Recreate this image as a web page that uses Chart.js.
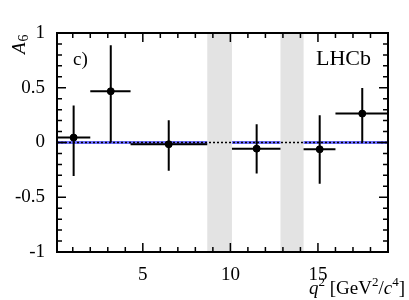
<!DOCTYPE html>
<html lang="en">
<head>
    <meta charset="UTF-8">
    <title>A6 vs q2</title>
    <script src="https://cdn.jsdelivr.net/npm/chart.js"></script>
    <style>
        html, body { margin: 0; padding: 0; background: #fff; }
        #wrap { width: 409px; height: 300px; }
    </style>
</head>
<body>
    <div id="wrap"><canvas id="a6Chart" width="409" height="300"></canvas></div>
    <script>
        // Measured bins (q2 in GeV^2/c^4)
        const binLow = [0.1, 2.0, 4.3, 10.09, 14.18, 16.0];
        const binHigh = [2.0, 4.3, 8.68, 12.86, 16.0, 19.0];
        const binCenter = [1.05, 3.17, 6.48, 11.5, 15.1, 17.53];
        const a6Value = [0.045, 0.468, -0.016, -0.056, -0.062, 0.264];
        const a6Upper = [0.337, 0.888, 0.203, 0.166, 0.249, 0.498];
        const a6Lower = [-0.306, 0.0, -0.257, -0.282, -0.376, 0.004];

        // SM prediction per bin (flat at zero)
        const smValue = [0, 0, 0, 0, 0, 0];

        // Vetoed charmonium regions
        const vetoLow = [8.68, 12.86];
        const vetoHigh = [10.09, 14.18];

        const xTicks = [5, 10, 15];
        const yTicks = [-1, -0.5, 0, 0.5, 1];

        Chart.defaults.font.family = "'Liberation Serif', serif";
        Chart.defaults.font.size = 19;
        Chart.defaults.color = '#000';

        // blue SM segments, broken between bins
        const smData = [];
        binLow.forEach((lo, i) => {
            smData.push({ x: lo, y: smValue[i] }, { x: binHigh[i], y: smValue[i] }, { x: binHigh[i], y: null });
        });

        const decor = {
            id: 'decor',
            beforeDatasetsDraw(chart) {
                const { ctx, chartArea: a, scales: { x } } = chart;
                ctx.save();
                ctx.fillStyle = '#e3e3e3';
                vetoLow.forEach((lo, i) => {
                    const x0 = x.getPixelForValue(lo), x1 = x.getPixelForValue(vetoHigh[i]);
                    ctx.fillRect(x0, a.top, x1 - x0, a.bottom - a.top);
                });
                ctx.restore();
            },
            afterDatasetsDraw(chart) {
                const { ctx, chartArea: a, scales: { x, y } } = chart;
                ctx.save();
                // error bars
                ctx.strokeStyle = '#000';
                ctx.lineWidth = 2;
                binCenter.forEach((c, i) => {
                    const px = x.getPixelForValue(c), py = y.getPixelForValue(a6Value[i]);
                    ctx.beginPath();
                    ctx.moveTo(Math.max(x.getPixelForValue(binLow[i]), a.left), py);
                    ctx.lineTo(x.getPixelForValue(binHigh[i]), py);
                    ctx.moveTo(px, y.getPixelForValue(a6Upper[i]));
                    ctx.lineTo(px, y.getPixelForValue(a6Lower[i]));
                    ctx.stroke();
                });
                // frame
                ctx.lineWidth = 2;
                ctx.strokeRect(a.left, a.top, a.right - a.left, a.bottom - a.top);
                // ticks pointing inward
                ctx.lineWidth = 1.5;
                ctx.beginPath();
                for (let v = 1; v <= 19; v++) {
                    const px = x.getPixelForValue(v);
                    const len = v % 5 === 0 ? 9 : 5;
                    ctx.moveTo(px, a.bottom); ctx.lineTo(px, a.bottom - len);
                    ctx.moveTo(px, a.top); ctx.lineTo(px, a.top + len);
                }
                for (let k = -10; k <= 10; k++) {
                    const py = y.getPixelForValue(k / 10);
                    const len = k % 5 === 0 ? 9 : 5;
                    ctx.moveTo(a.left, py); ctx.lineTo(a.left + len, py);
                    ctx.moveTo(a.right, py); ctx.lineTo(a.right - len, py);
                }
                ctx.stroke();

                // labels
                ctx.fillStyle = '#000';
                ctx.textBaseline = 'alphabetic';
                ctx.font = "19px 'Liberation Serif'";
                ctx.textAlign = 'left';
                ctx.fillText('c)', 73, 65);
                ctx.font = "22px 'Liberation Serif'";
                ctx.fillText('LHCb', 316, 65);

                // x title: q^2 [GeV^2/c^4], right aligned
                const parts = [
                    { t: 'q', f: "italic 19px 'Liberation Serif'", dy: 0 },
                    { t: '2', f: "13px 'Liberation Serif'", dy: -8 },
                    { t: ' [GeV', f: "19px 'Liberation Serif'", dy: 0 },
                    { t: '2', f: "13px 'Liberation Serif'", dy: -8 },
                    { t: '/', f: "19px 'Liberation Serif'", dy: 0 },
                    { t: 'c', f: "italic 19px 'Liberation Serif'", dy: 0 },
                    { t: '4', f: "13px 'Liberation Serif'", dy: -8 },
                    { t: ']', f: "19px 'Liberation Serif'", dy: 0 }
                ];
                let total = 0;
                parts.forEach(p => { ctx.font = p.f; p.w = ctx.measureText(p.t).width; total += p.w; });
                let cx = 405 - total;
                parts.forEach(p => { ctx.font = p.f; ctx.fillText(p.t, cx, 294 + p.dy); cx += p.w; });

                // y title: A_6 rotated
                ctx.translate(25, 54);
                ctx.rotate(-Math.PI / 2);
                ctx.font = "italic 19px 'Liberation Serif'";
                ctx.fillText('A', 0, 0);
                const aw = ctx.measureText('A').width;
                ctx.font = "14px 'Liberation Serif'";
                ctx.fillText('6', aw + 1, 3);
                ctx.restore();
            }
        };

        new Chart(document.getElementById('a6Chart').getContext('2d'), {
            type: 'scatter',
            data: {
                datasets: [
                    {
                        type: 'line',
                        data: smData,
                        borderColor: '#6f6fff',
                        borderWidth: 3,
                        pointRadius: 0,
                        spanGaps: false,
                        order: 3
                    },
                    {
                        type: 'line',
                        data: [{ x: 0.1, y: 0 }, { x: 19, y: 0 }],
                        borderColor: '#000',
                        borderWidth: 1.5,
                        borderDash: [2, 2],
                        pointRadius: 0,
                        order: 2
                    },
                    {
                        data: binCenter.map((c, i) => ({ x: c, y: a6Value[i] })),
                        backgroundColor: '#000',
                        borderColor: '#000',
                        pointRadius: 3.5,
                        order: 1
                    }
                ]
            },
            options: {
                responsive: false,
                animation: false,
                layout: { padding: { top: 33, right: 21, left: 0, bottom: 0 } },
                plugins: { legend: { display: false }, tooltip: { enabled: false } },
                scales: {
                    x: {
                        type: 'linear',
                        min: 0.1,
                        max: 19,
                        grid: { display: false },
                        border: { display: false },
                        afterBuildTicks: s => { s.ticks = xTicks.map(v => ({ value: v })); },
                        afterFit: s => { s.height = 48; },
                        ticks: { padding: 4, maxRotation: 0, callback: v => String(v) }
                    },
                    y: {
                        min: -1,
                        max: 1,
                        grid: { display: false },
                        border: { display: false },
                        afterBuildTicks: s => { s.ticks = yTicks.map(v => ({ value: v })); },
                        afterFit: s => { s.width = 57; },
                        ticks: { padding: 4, callback: v => String(v) }
                    }
                }
            },
            plugins: [decor]
        });
    </script>
</body>
</html>
